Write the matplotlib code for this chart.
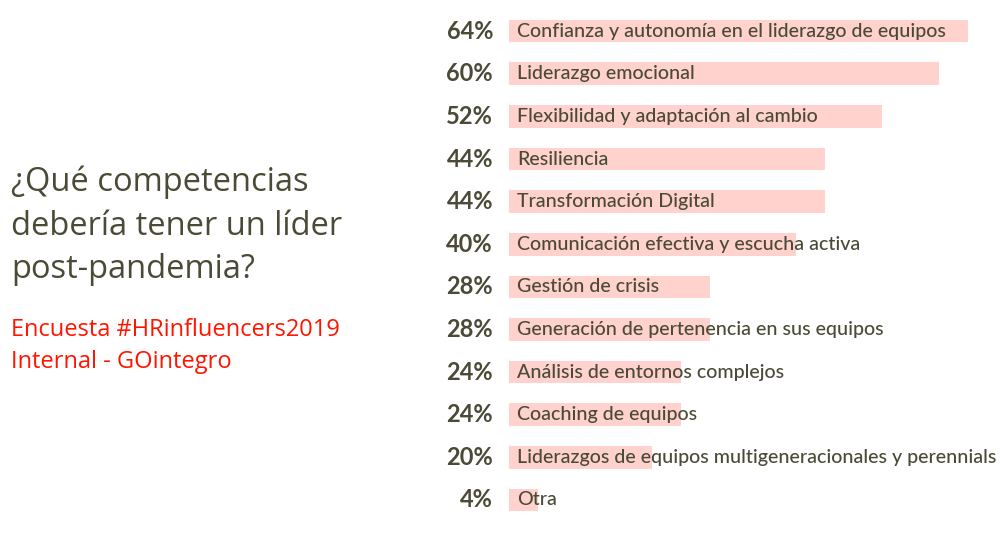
import numpy as np
from matplotlib import pyplot as plt

# dados
competencias = [
    'Confianza y autonomía en el liderazgo de equipos',
    'Liderazgo emocional',
    'Flexibilidad y adaptación al cambio',
    'Resiliencia',
    'Transformación Digital',
    'Comunicación efectiva y escucha activa',
    'Gestión de crisis',
    'Generación de pertenencia en sus equipos',
    'Análisis de entornos complejos',
    'Coaching de equipos',
    'Liderazgos de equipos multigeneracionales y perennials',
    'Otra',
]
porcentagens = [64, 60, 52, 44, 44, 40, 28, 28, 24, 24, 20, 4]

cor_texto = '#4b4a36'
cor_barra = '#ffd2ce'
cor_vermelha = '#ff1500'

plt.rcParams['font.family'] = ['Open Sans', 'DejaVu Sans']

fig = plt.figure(figsize=(10, 5.35), dpi=100)
ax = fig.add_axes([0.509, 0.0256, 0.459, 0.956])

y = np.arange(len(competencias))
ax.barh(y, porcentagens, height=0.53, color=cor_barra, zorder=1)

for i in range(len(competencias)):
    ax.annotate(
        '{}%'.format(porcentagens[i]),
        xy=(0, y[i]), xytext=(-11.5, 0), textcoords='offset points',
        ha='right', va='center', fontsize=17, fontweight='bold',
        family=['Lato', 'DejaVu Sans'],
        color=cor_texto, annotation_clip=False
    )
    ax.annotate(
        competencias[i],
        xy=(0, y[i]), xytext=(5.8, 0), textcoords='offset points',
        ha='left', va='center', fontsize=14.1, fontweight='medium',
        family=['Lato', 'DejaVu Sans'],
        color=cor_texto, annotation_clip=False, zorder=3
    )

ax.set_xlim(0, 64)
ax.set_ylim(len(competencias) - 0.5, -0.5)
ax.axis('off')

# titulo a esquerda
fig.text(0.011, 0.69, '¿Qué competencias\ndebería tener un líder\npost-pandemia?',
         fontsize=23.5, color=cor_texto, va='top', ha='left', linespacing=1.42)
fig.text(0.011, 0.405, 'Encuesta #HRinfluencers2019\nInternal - GOintegro',
         fontsize=17, color=cor_vermelha, va='top', ha='left', linespacing=1.4)

plt.savefig('out.png', dpi=100)
